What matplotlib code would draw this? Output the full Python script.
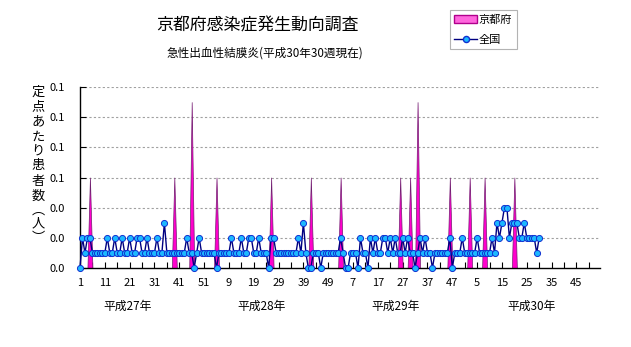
import matplotlib
matplotlib.use("Agg")
import matplotlib.pyplot as plt
from matplotlib.patches import Patch
from matplotlib.lines import Line2D
import numpy as np

plt.rcParams['font.family'] = ['Noto Sans CJK JP', 'DejaVu Sans']

title = "京都府感染症発生動向調査"
subtitle = "急性出血性結膜炎(平成30年30週現在)"
ylabel_chars = ["定", "点", "あ", "た", "り", "患", "者", "数", "︵", "人", "︶"]

# national (全国) weekly values, 平成27年 week1 .. 平成30年 week30
national = [
    0.00, 0.02, 0.01, 0.02, 0.02, 0.01, 0.01, 0.01, 0.01, 0.01,
    0.01, 0.02, 0.01, 0.01, 0.02, 0.01, 0.01, 0.02, 0.01, 0.01,
    0.02, 0.01, 0.01, 0.02, 0.02, 0.01, 0.01, 0.02, 0.01, 0.01,
    0.01, 0.02, 0.01, 0.01, 0.03, 0.01, 0.01, 0.01, 0.01, 0.01,
    0.01, 0.01, 0.01, 0.02, 0.01, 0.01, 0.00, 0.01, 0.02, 0.01,
    0.01, 0.01, 0.01, 0.01, 0.01, 0.00, 0.01, 0.01, 0.01, 0.01,
    0.01, 0.02, 0.01, 0.01, 0.01, 0.02, 0.01, 0.01, 0.02, 0.02,
    0.01, 0.01, 0.02, 0.01, 0.01, 0.01, 0.00, 0.02, 0.02, 0.01,
    0.01, 0.01, 0.01, 0.01, 0.01, 0.01, 0.01, 0.01, 0.02, 0.01,
    0.03, 0.01, 0.00, 0.00, 0.01, 0.01, 0.01, 0.00, 0.01, 0.01,
    0.01, 0.01, 0.01, 0.01, 0.01, 0.02, 0.01, 0.00, 0.00, 0.01,
    0.01, 0.01, 0.00, 0.02, 0.01, 0.01, 0.00, 0.02, 0.01, 0.02,
    0.01, 0.01, 0.02, 0.02, 0.01, 0.02, 0.01, 0.02, 0.01, 0.01,
    0.02, 0.01, 0.02, 0.01, 0.01, 0.00, 0.01, 0.02, 0.01, 0.02,
    0.01, 0.01, 0.00, 0.01, 0.01, 0.01, 0.01, 0.01, 0.01, 0.02,
    0.00, 0.01, 0.01, 0.01, 0.02, 0.01, 0.01, 0.01, 0.01, 0.01,
    0.02, 0.01, 0.01, 0.01, 0.01, 0.01, 0.02, 0.01, 0.03, 0.02,
    0.03, 0.04, 0.04, 0.02, 0.03, 0.03, 0.03, 0.02, 0.02, 0.03,
    0.02, 0.02, 0.02, 0.02, 0.01, 0.02,
]

# Kyoto (京都府) weekly values
kyoto = [
    0, 0, 0, 0, 0.06, 0, 0, 0, 0, 0,
    0, 0, 0, 0, 0, 0, 0, 0, 0, 0,
    0, 0, 0, 0, 0, 0, 0, 0, 0, 0,
    0, 0, 0, 0, 0, 0, 0, 0, 0.06, 0,
    0, 0, 0, 0, 0, 0.11, 0, 0, 0, 0,
    0, 0, 0, 0, 0, 0.06, 0, 0, 0, 0,
    0, 0, 0, 0, 0, 0, 0, 0, 0, 0,
    0, 0, 0, 0, 0, 0, 0, 0.06, 0, 0,
    0, 0, 0, 0, 0, 0, 0, 0, 0, 0,
    0, 0, 0, 0.06, 0, 0, 0, 0, 0, 0,
    0, 0, 0, 0, 0, 0.06, 0, 0, 0, 0,
    0, 0, 0, 0, 0, 0, 0, 0, 0, 0,
    0, 0, 0, 0, 0, 0, 0, 0, 0, 0.06,
    0, 0, 0, 0.06, 0, 0, 0.11, 0, 0, 0,
    0, 0, 0, 0, 0, 0, 0, 0, 0, 0.06,
    0, 0, 0, 0, 0, 0, 0, 0.06, 0, 0,
    0, 0, 0, 0.06, 0, 0, 0, 0, 0, 0,
    0, 0, 0, 0, 0, 0.06, 0, 0, 0, 0,
    0, 0, 0, 0, 0, 0,
]

xtick_labels = ['1', '11', '21', '31', '41', '51', '9', '19', '29', '39', '49',
                '7', '17', '27', '37', '47', '5', '15', '25', '35', '45']
year_labels = ['平成27年', '平成28年', '平成29年', '平成30年']
year_label_pos = [19, 73, 127, 182]
yticks = [0.0, 0.02, 0.04, 0.06, 0.08, 0.10, 0.12]

W, H = 631, 347
fig = plt.figure(figsize=(W / 100, H / 100), dpi=100)
fig.patch.set_facecolor('white')

L, R, B, T = 80, 600, 268, 87
ax = fig.add_axes([L / W, 1 - B / H, (R - L) / W, (B - T) / H])

x = np.arange(len(national))
xk = np.arange(len(kyoto))

ax.fill_between(xk, kyoto, 0, facecolor='#FF00CC', edgecolor='#702070',
                linewidth=0.5, zorder=2)
ax.plot(x, national, color='#000080', linewidth=1.0, marker='o',
        markersize=4.4, markerfacecolor='#1CB8FF', markeredgecolor='#1030D0',
        markeredgewidth=0.7, zorder=3, clip_on=False)

ax.set_xlim(0, 209.5)
ax.set_ylim(0, 0.12)
ax.set_yticks(yticks)
ax.set_yticklabels(['%.1f' % v for v in yticks])
major = np.arange(0, 10 * len(xtick_labels), 10)
ax.set_xticks(major)
ax.set_xticklabels(xtick_labels)
ax.set_xticks(major + 5, minor=True)

for v in yticks[1:]:
    ax.axhline(v, color='#A0A0A0', linewidth=0.8, linestyle=(0, (2, 2)), zorder=1)

for s in ['top', 'right']:
    ax.spines[s].set_visible(False)
for s in ['left', 'bottom']:
    ax.spines[s].set_color('black')
    ax.spines[s].set_linewidth(1.0)

ax.tick_params(axis='x', which='both', direction='in', length=4, width=0.8,
               labelsize=8, pad=7)
ax.tick_params(axis='y', which='both', direction='in', length=4, width=0.8,
               labelsize=8, pad=11)

for lab, pos in zip(year_labels, year_label_pos):
    ax.text(pos, -0.0252, lab, ha='center', va='center', fontsize=8.5)

fig.text(257 / W, 1 - 25 / H, title, ha='center', va='center', fontsize=12.2)
fig.text(265 / W, 1 - 53 / H, subtitle, ha='center', va='center', fontsize=8.4)

ylabel_pos = [92, 107, 122, 137, 151, 166, 181, 196, 210, 224, 238]
for ch, yp in zip(ylabel_chars, ylabel_pos):
    fig.text(38 / W, 1 - yp / H, ch, ha='center', va='center', fontsize=9.5)

handles = [Patch(facecolor='#FF66DD', edgecolor='#B0008C', linewidth=1.0),
           Line2D([0], [0], color='#000080', linewidth=1.0, marker='o',
                  markersize=4.4, markerfacecolor='#1CB8FF',
                  markeredgecolor='#1030D0')]
leg = fig.legend(handles, ['京都府', '全国'], loc='upper left',
                 bbox_to_anchor=(450 / W, 1 - 10 / H), fontsize=8,
                 frameon=True, fancybox=False, borderpad=0.4,
                 handlelength=2.0, handletextpad=0.2, labelspacing=0.9,
                 borderaxespad=0)
leg.get_frame().set_edgecolor('#A0A0A0')
leg.get_frame().set_linewidth(0.8)

fig.savefig('out.png', dpi=100, facecolor='white')
